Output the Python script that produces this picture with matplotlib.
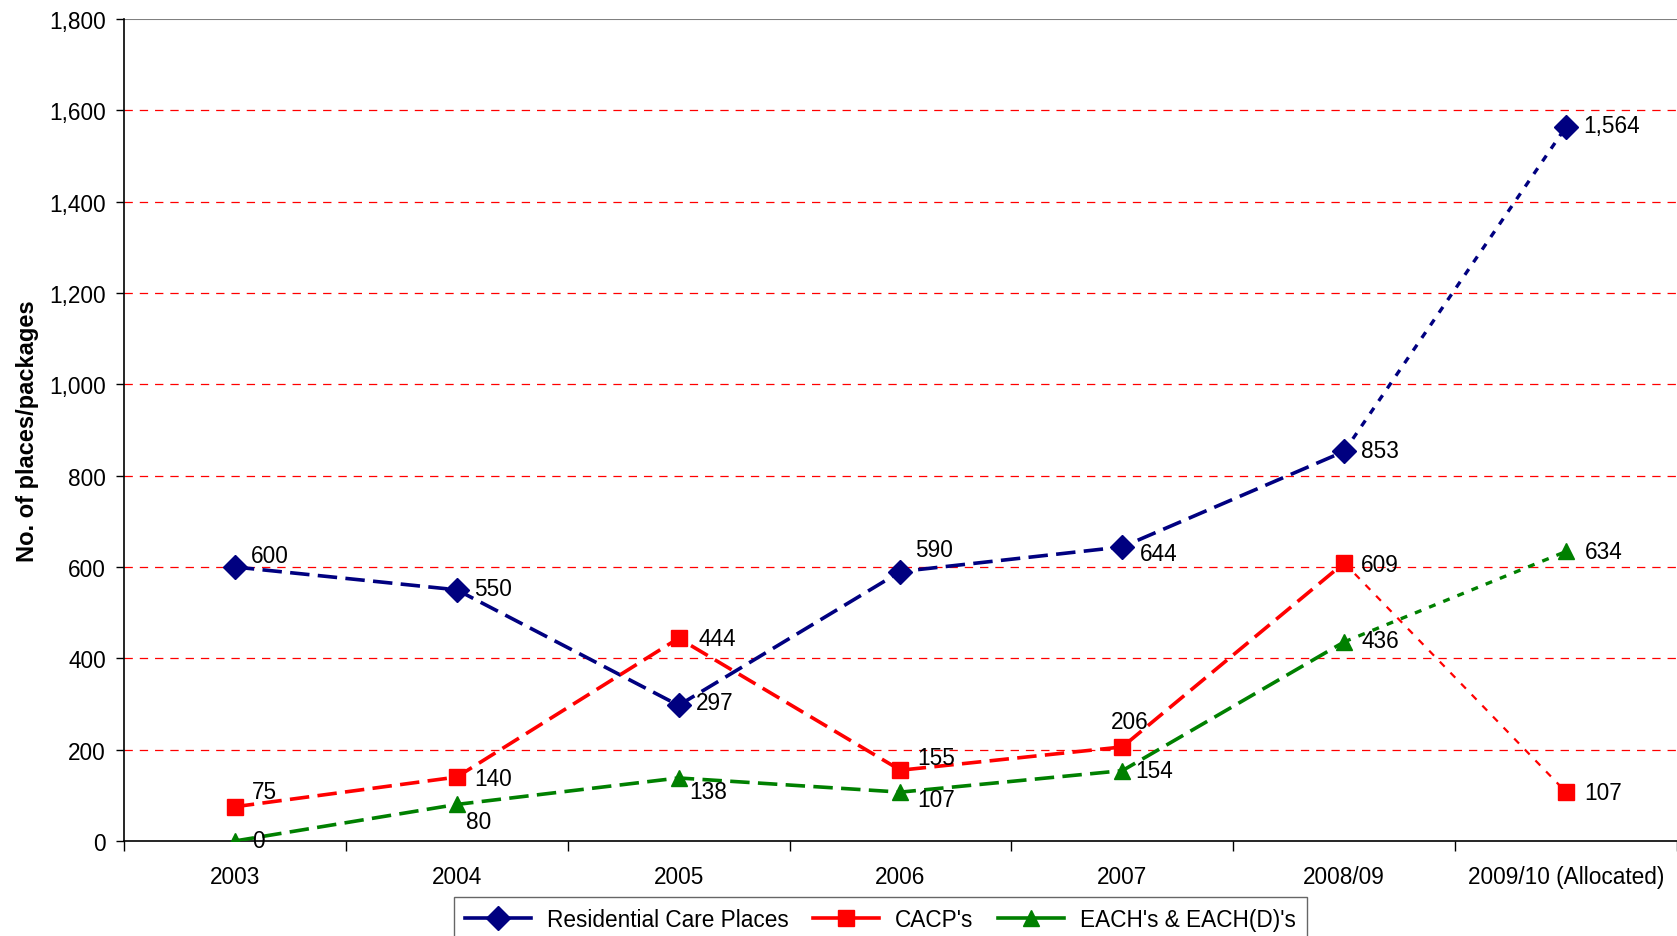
import numpy as np
import matplotlib
matplotlib.use("Agg")
import matplotlib.pyplot as plt
from matplotlib.ticker import FuncFormatter, FixedLocator

plt.rcParams['font.family'] = ['Liberation Sans', 'DejaVu Sans']
plt.rcParams['lines.scale_dashes'] = False

years = ["2003", "2004", "2005", "2006", "2007", "2008/09", "2009/10 (Allocated)"]
residential = [600, 550, 297, 590, 644, 853, 1564]
cacp = [75, 140, 444, 155, 206, 609, 107]
each = [0, 80, 138, 107, 154, 436, 634]

# label offsets (points) for each data label
off_res = [(25, 8), (26, 1), (26, 2), (24, 16), (26, -5), (26, 1), (33, 1)]
off_cacp = [(21, 11), (26, -1), (28, 0), (26, 9), (5, 18), (26, -1), (27, 0)]
off_each = [(17, 0), (16, -12), (21, -10), (26, -5), (23, 0), (26, 1), (27, 0)]

series = [
    ("Residential Care Places", residential, "#000080", "D", 12.5, 2.6, 2.4, off_res),
    ("CACP's", cacp, "#FF0000", "s", 11.5, 2.6, 1.6, off_cacp),
    ("EACH's & EACH(D)'s", each, "#008000", "^", 12, 2.6, 2.4, off_each),
]

FS = 16.3

fig = plt.figure(figsize=(16.77, 9.37), dpi=100)
ax = fig.add_axes([0.0739, 0.1014, 0.9261, 0.8773])

x = np.arange(len(years))
handles = []
for name, vals, col, mk, ms, lw, lw2, offs in series:
    # solid years dashed, last (allocated) segment dotted
    ax.plot(x[:6], vals[:6], color=col, lw=lw, dashes=(14, 6), zorder=3)
    ax.plot(x[5:], vals[5:], color=col, lw=lw2, dashes=(5, 6), zorder=3)
    ax.plot(x, vals, ls="none", marker=mk, ms=ms, color=col, zorder=4)
    h, = ax.plot([], [], color=col, lw=lw, marker=mk, ms=ms)
    handles.append(h)
    for xi, v, (dx, dy) in zip(x, vals, offs):
        ax.annotate(f"{v:,}", (xi, v), xytext=(dx, dy), textcoords="offset points",
                    ha="center", va="center", fontsize=FS, zorder=5)

ax.set_xlim(-0.5, 6.5)
ax.set_ylim(0, 1800)
ax.set_yticks(np.arange(0, 1801, 200))
ax.yaxis.set_major_formatter(FuncFormatter(lambda v, p: f"{int(v):,}"))
for yv in range(200, 1601, 200):
    ax.axhline(yv, color="#FF0000", lw=0.9, dashes=(6, 5), zorder=1)
ax.axhline(1800, color="#808080", lw=1.5, zorder=1)

ax.xaxis.set_major_locator(FixedLocator(np.arange(-0.5, 7, 1)))
ax.xaxis.set_major_formatter(FuncFormatter(lambda v, p: ""))
ax.xaxis.set_minor_locator(FixedLocator(x))
ax.set_xticklabels(years, minor=True)
ax.tick_params(axis="x", which="minor", length=0, pad=17, labelsize=FS)
ax.tick_params(axis="x", which="major", length=7, width=1)
ax.tick_params(axis="y", length=6, width=1, pad=7, labelsize=FS)

ax.spines["top"].set_visible(False)
ax.spines["right"].set_visible(False)
ax.spines["left"].set_linewidth(1.2)
ax.spines["bottom"].set_linewidth(1.2)

fig.text(0.0165, 0.54, "No. of places/packages", rotation=90, fontsize=17,
         fontweight="bold", ha="center", va="center")

leg = fig.legend(handles, [s[0] for s in series], loc="upper center",
                 bbox_to_anchor=(0.525, 0.054), ncol=3, fontsize=FS,
                 frameon=True, fancybox=False, edgecolor="#404040",
                 handlelength=2.9, columnspacing=1.1, handletextpad=0.7,
                 borderpad=0.5)
leg.get_frame().set_linewidth(1.0)

fig.savefig("out.png", dpi=100)
